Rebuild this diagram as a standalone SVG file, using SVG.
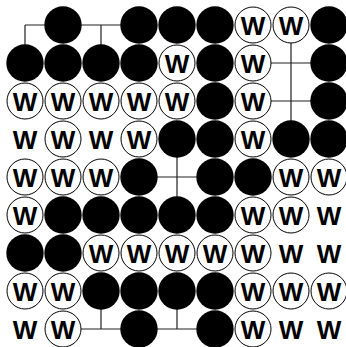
<svg xmlns="http://www.w3.org/2000/svg" width="346" height="347" viewBox="0 0 346 347">
<style>
.bg{fill:#fff}
.ln{stroke:#222;stroke-width:1.2;fill:none}
.b{fill:#000}
.w{fill:#fff;stroke:#000;stroke-width:1}
.t{font-family:"Liberation Sans",Arial,sans-serif;font-weight:bold;font-size:26px;text-anchor:middle;fill:#000}
</style>
<rect class="bg" x="0" y="0" width="346" height="347"/>
<g id="connectors" class="ln">
<path d="M25 25H139M25 25V63M101 25V63"/>
<path d="M291 25V139M253 63H329M253 101H329"/>
<path d="M139 177H215M177 139V215"/>
<path d="M63 329H215M101 291V329M177 291V329"/>
</g>
<g id="r0c1"><circle class="b" cx="63" cy="25" r="18.7"/></g>
<g id="r0c3"><circle class="b" cx="139" cy="25" r="18.7"/></g>
<g id="r0c4"><circle class="b" cx="177" cy="25" r="18.7"/></g>
<g id="r0c5"><circle class="b" cx="215" cy="25" r="18.7"/></g>
<g id="r0c6"><circle class="w" cx="253" cy="25" r="18"/><text class="t" x="253" y="34.5">W</text></g>
<g id="r0c7"><circle class="w" cx="291" cy="25" r="18"/><text class="t" x="291" y="34.5">W</text></g>
<g id="r0c8"><circle class="b" cx="329" cy="25" r="18.7"/></g>

<g id="r1c0"><circle class="b" cx="25" cy="63" r="18.7"/></g>
<g id="r1c1"><circle class="b" cx="63" cy="63" r="18.7"/></g>
<g id="r1c2"><circle class="b" cx="101" cy="63" r="18.7"/></g>
<g id="r1c3"><circle class="b" cx="139" cy="63" r="18.7"/></g>
<g id="r1c4"><circle class="w" cx="177" cy="63" r="18"/><text class="t" x="177" y="72.5">W</text></g>
<g id="r1c5"><circle class="b" cx="215" cy="63" r="18.7"/></g>
<g id="r1c6"><circle class="w" cx="253" cy="63" r="18"/><text class="t" x="253" y="72.5">W</text></g>
<g id="r1c8"><circle class="b" cx="329" cy="63" r="18.7"/></g>

<g id="r2c0"><circle class="w" cx="25" cy="101" r="18"/><text class="t" x="25" y="110.5">W</text></g>
<g id="r2c1"><circle class="w" cx="63" cy="101" r="18"/><text class="t" x="63" y="110.5">W</text></g>
<g id="r2c2"><circle class="w" cx="101" cy="101" r="18"/><text class="t" x="101" y="110.5">W</text></g>
<g id="r2c3"><circle class="w" cx="139" cy="101" r="18"/><text class="t" x="139" y="110.5">W</text></g>
<g id="r2c4"><circle class="w" cx="177" cy="101" r="18"/><text class="t" x="177" y="110.5">W</text></g>
<g id="r2c5"><circle class="b" cx="215" cy="101" r="18.7"/></g>
<g id="r2c6"><circle class="w" cx="253" cy="101" r="18"/><text class="t" x="253" y="110.5">W</text></g>
<g id="r2c8"><circle class="b" cx="329" cy="101" r="18.7"/></g>

<g id="r3c0"><text class="t" x="25" y="148.5">W</text></g>
<g id="r3c1"><circle class="w" cx="63" cy="139" r="18"/><text class="t" x="63" y="148.5">W</text></g>
<g id="r3c2"><text class="t" x="101" y="148.5">W</text></g>
<g id="r3c3"><circle class="w" cx="139" cy="139" r="18"/><text class="t" x="139" y="148.5">W</text></g>
<g id="r3c4"><circle class="b" cx="177" cy="139" r="18.7"/></g>
<g id="r3c5"><circle class="b" cx="215" cy="139" r="18.7"/></g>
<g id="r3c6"><circle class="w" cx="253" cy="139" r="18"/><text class="t" x="253" y="148.5">W</text></g>
<g id="r3c7"><circle class="b" cx="291" cy="139" r="18.7"/></g>
<g id="r3c8"><circle class="b" cx="329" cy="139" r="18.7"/></g>

<g id="r4c0"><circle class="w" cx="25" cy="177" r="18"/><text class="t" x="25" y="186.5">W</text></g>
<g id="r4c1"><circle class="w" cx="63" cy="177" r="18"/><text class="t" x="63" y="186.5">W</text></g>
<g id="r4c2"><circle class="w" cx="101" cy="177" r="18"/><text class="t" x="101" y="186.5">W</text></g>
<g id="r4c3"><circle class="b" cx="139" cy="177" r="18.7"/></g>
<g id="r4c5"><circle class="b" cx="215" cy="177" r="18.7"/></g>
<g id="r4c6"><circle class="b" cx="253" cy="177" r="18.7"/></g>
<g id="r4c7"><circle class="w" cx="291" cy="177" r="18"/><text class="t" x="291" y="186.5">W</text></g>
<g id="r4c8"><circle class="w" cx="329" cy="177" r="18"/><text class="t" x="329" y="186.5">W</text></g>

<g id="r5c0"><circle class="w" cx="25" cy="215" r="18"/><text class="t" x="25" y="224.5">W</text></g>
<g id="r5c1"><circle class="b" cx="63" cy="215" r="18.7"/></g>
<g id="r5c2"><circle class="b" cx="101" cy="215" r="18.7"/></g>
<g id="r5c3"><circle class="b" cx="139" cy="215" r="18.7"/></g>
<g id="r5c4"><circle class="b" cx="177" cy="215" r="18.7"/></g>
<g id="r5c5"><circle class="b" cx="215" cy="215" r="18.7"/></g>
<g id="r5c6"><circle class="w" cx="253" cy="215" r="18"/><text class="t" x="253" y="224.5">W</text></g>
<g id="r5c7"><circle class="w" cx="291" cy="215" r="18"/><text class="t" x="291" y="224.5">W</text></g>
<g id="r5c8"><text class="t" x="329" y="224.5">W</text></g>

<g id="r6c0"><circle class="b" cx="25" cy="253" r="18.7"/></g>
<g id="r6c1"><circle class="b" cx="63" cy="253" r="18.7"/></g>
<g id="r6c2"><circle class="w" cx="101" cy="253" r="18"/><text class="t" x="101" y="262.5">W</text></g>
<g id="r6c3"><circle class="w" cx="139" cy="253" r="18"/><text class="t" x="139" y="262.5">W</text></g>
<g id="r6c4"><circle class="w" cx="177" cy="253" r="18"/><text class="t" x="177" y="262.5">W</text></g>
<g id="r6c5"><circle class="w" cx="215" cy="253" r="18"/><text class="t" x="215" y="262.5">W</text></g>
<g id="r6c6"><circle class="w" cx="253" cy="253" r="18"/><text class="t" x="253" y="262.5">W</text></g>
<g id="r6c7"><text class="t" x="291" y="262.5">W</text></g>
<g id="r6c8"><text class="t" x="329" y="262.5">W</text></g>

<g id="r7c0"><circle class="w" cx="25" cy="291" r="18"/><text class="t" x="25" y="300.5">W</text></g>
<g id="r7c1"><circle class="w" cx="63" cy="291" r="18"/><text class="t" x="63" y="300.5">W</text></g>
<g id="r7c2"><circle class="b" cx="101" cy="291" r="18.7"/></g>
<g id="r7c3"><circle class="b" cx="139" cy="291" r="18.7"/></g>
<g id="r7c4"><circle class="b" cx="177" cy="291" r="18.7"/></g>
<g id="r7c5"><circle class="b" cx="215" cy="291" r="18.7"/></g>
<g id="r7c6"><circle class="w" cx="253" cy="291" r="18"/><text class="t" x="253" y="300.5">W</text></g>
<g id="r7c7"><circle class="w" cx="291" cy="291" r="18"/><text class="t" x="291" y="300.5">W</text></g>
<g id="r7c8"><circle class="w" cx="329" cy="291" r="18"/><text class="t" x="329" y="300.5">W</text></g>

<g id="r8c0"><text class="t" x="25" y="338.5">W</text></g>
<g id="r8c1"><circle class="w" cx="63" cy="329" r="18"/><text class="t" x="63" y="338.5">W</text></g>
<g id="r8c3"><circle class="b" cx="139" cy="329" r="18.7"/></g>
<g id="r8c5"><circle class="b" cx="215" cy="329" r="18.7"/></g>
<g id="r8c6"><circle class="w" cx="253" cy="329" r="18"/><text class="t" x="253" y="338.5">W</text></g>
<g id="r8c7"><text class="t" x="291" y="338.5">W</text></g>
<g id="r8c8"><text class="t" x="329" y="338.5">W</text></g>
</svg>
